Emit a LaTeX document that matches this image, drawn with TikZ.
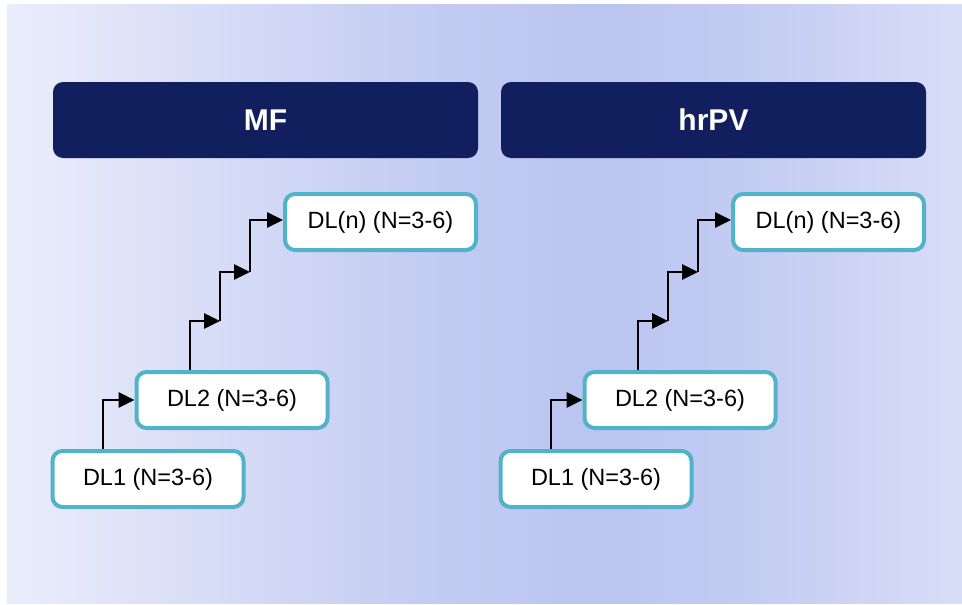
\documentclass[tikz,border=0pt]{standalone}
\usepackage{fontspec}
\setmainfont{Liberation Sans}
\usetikzlibrary{arrows.meta}

\definecolor{bgA}{HTML}{EAEDFB}
\definecolor{bgB}{HTML}{C3CCF2}
\definecolor{bgC}{HTML}{BAC5F0}
\definecolor{bgE}{HTML}{C3CCF2}
\definecolor{bgD}{HTML}{D8DDF7}
\definecolor{navy}{HTML}{111F5E}
\definecolor{teal}{HTML}{52B3C8}

% soft lavender band behind both panels
\pgfdeclarehorizontalshading{panelbg}{100bp}{%
  color(0bp)=(bgA); color(25bp)=(bgA); color(47bp)=(bgB);
  color(56bp)=(bgC); color(64bp)=(bgE); color(75bp)=(bgD); color(100bp)=(bgD)}

\tikzset{
  header/.style={fill=navy, draw=none, rounded corners=10pt,
    minimum width=425pt, minimum height=76pt, inner sep=0pt,
    text=white, font=\fontsize{30}{36}\selectfont\bfseries},
  level/.style={fill=white, draw=teal, line width=4pt, rounded corners=10pt,
    minimum width=191pt, minimum height=56pt, inner sep=0pt,
    font=\fontsize{23.5}{28}\selectfont},
  flow/.style={draw=black, line width=2.8pt,
    -{Triangle[length=16pt, width=15pt]}},
}

\begin{document}
\begin{tikzpicture}[x=1pt, y=-1pt]
  \useasboundingbox (0,0) rectangle (962,605);
  \shade[shading=panelbg] (7,4) rectangle (962,603);

  \foreach \p/\dx/\ttl in {L/0/MF, R/448/hrPV}{
    \begin{scope}[xshift=\dx pt]
      \node[header] (\p-head) at (265.5,120) {\ttl};

      \node[level] (\p-1) at (148,479) {DL1 (N=3-6)};
      \node[level] (\p-2) at (232,400) {DL2 (N=3-6)};
      \node[level] (\p-n) at (380.5,222) {DL(n) (N=3-6)};

      % landings of the staircase between DL2 and DL(n)
      \coordinate (\p-s1) at (220,321);
      \coordinate (\p-s2) at (250,272);

      \draw[flow] ([xshift=-45pt]\p-1.north) |- (\p-2.west);
      \draw[flow] ([xshift=-42pt]\p-2.north) |- (\p-s1);
      \draw[flow] (\p-s1) |- (\p-s2);
      \draw[flow] (\p-s2) |- ([yshift=2pt]\p-n.west);
    \end{scope}
  }
\end{tikzpicture}
\end{document}
